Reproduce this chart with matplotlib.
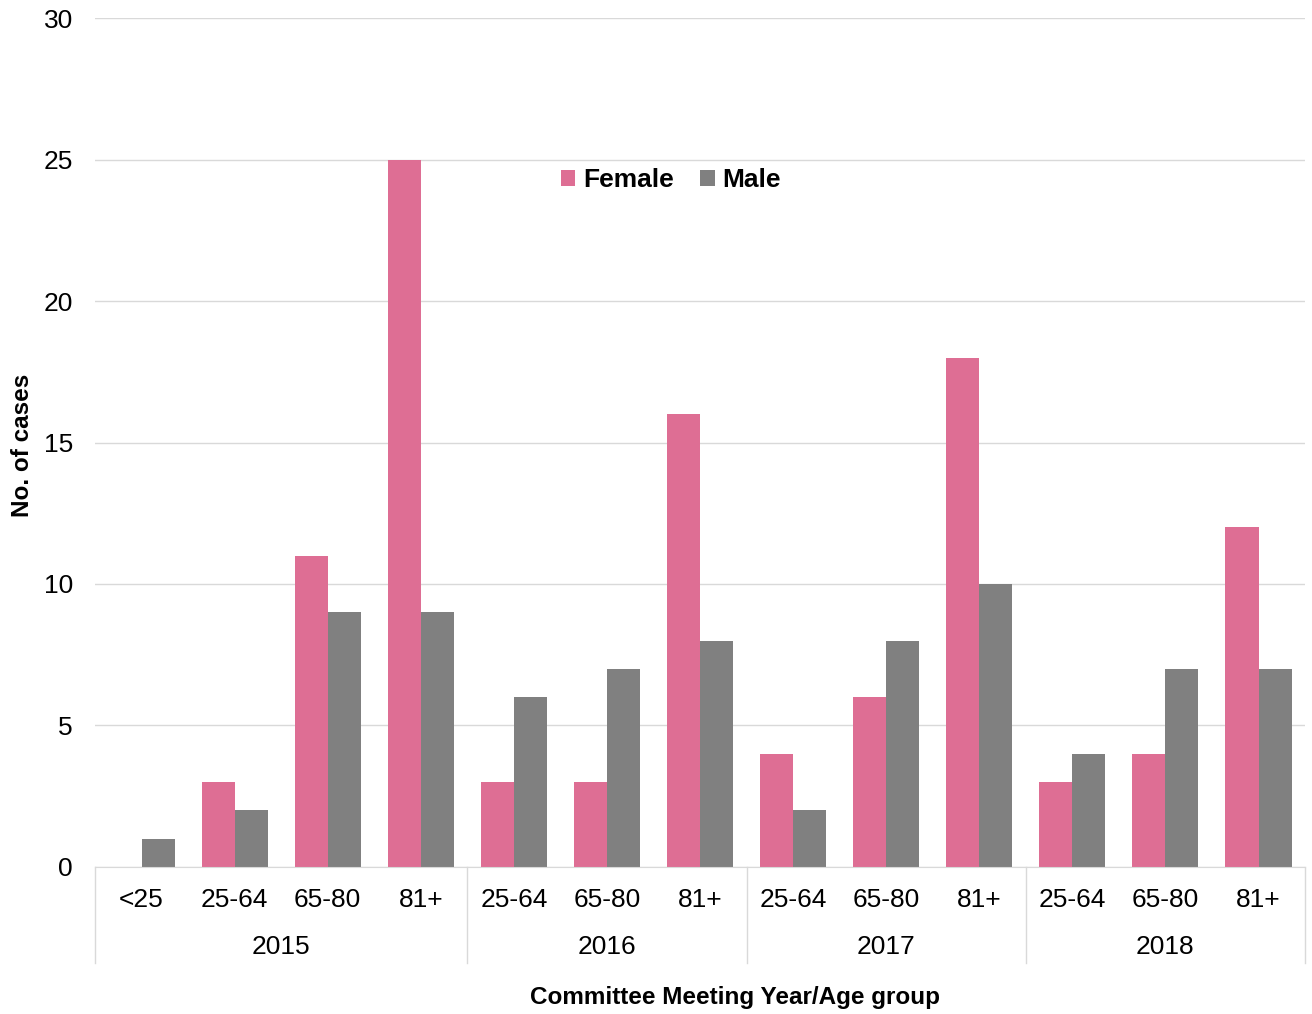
import numpy as np
import matplotlib.pyplot as plt
from matplotlib.lines import Line2D

plt.rcParams['font.family'] = ['Liberation Sans', 'DejaVu Sans']

years = ['2015', '2016', '2017', '2018']
age_groups = [['<25', '25-64', '65-80', '81+'],
              ['25-64', '65-80', '81+'],
              ['25-64', '65-80', '81+'],
              ['25-64', '65-80', '81+']]
female = [0, 3, 11, 25, 3, 3, 16, 4, 6, 18, 3, 4, 12]
male = [1, 2, 9, 9, 6, 7, 8, 2, 8, 10, 4, 7, 7]

pink = '#de6e94'
grey = '#808080'
line_col = '#d9d9d9'

labels = [a for grp in age_groups for a in grp]
x = np.arange(len(labels))
w = 0.355

fig = plt.figure(figsize=(13.12, 10.14), dpi=100)
ax = fig.add_axes([0.0724, 0.145, 0.9223, 0.8372])

ax.bar(x - w / 2, female, w, color=pink, label='Female')
ax.bar(x + w / 2, male, w, color=grey, label='Male')

ax.set_xlim(-0.5, len(labels) - 0.5)
ax.set_ylim(0, 30)
ax.set_yticks(range(0, 31, 5))
ax.yaxis.grid(True, color=line_col, lw=1)
ax.set_axisbelow(True)
for s in ['top', 'right', 'left']:
    ax.spines[s].set_visible(False)
ax.spines['bottom'].set_color(line_col)
ax.tick_params(axis='y', length=0, labelsize=19, pad=16)
ax.tick_params(axis='x', length=0, labelsize=19, pad=15)
ax.set_xticks(x)
ax.set_xticklabels(labels)

# year labels and group separators under the axis
start = 0
bounds = [-0.5]
for yr, grp in zip(years, age_groups):
    end = start + len(grp)
    ax.text((start + end - 1) / 2, -0.094, yr, transform=ax.get_xaxis_transform(),
            ha='center', va='center', fontsize=19)
    bounds.append(end - 0.5)
    start = end
for b in bounds:
    ax.add_line(Line2D([b, b], [0, -0.113], transform=ax.get_xaxis_transform(),
                       color=line_col, lw=1, clip_on=False))

fig.text(0.017, 0.561, 'No. of cases', rotation=90, ha='center', va='center',
         fontsize=17.5, fontweight='bold')
fig.text(0.56, 0.0158, 'Committee Meeting Year/Age group', ha='center', va='center',
         fontsize=17.5, fontweight='bold')

ax.legend(loc='center', bbox_to_anchor=(0.476, 0.809), ncol=2, frameon=False,
          prop={'size': 19, 'weight': 'bold'}, handlelength=0.55, handleheight=0.55,
          handletextpad=0.3, columnspacing=1.0)

fig.savefig('out.png', dpi=100)
